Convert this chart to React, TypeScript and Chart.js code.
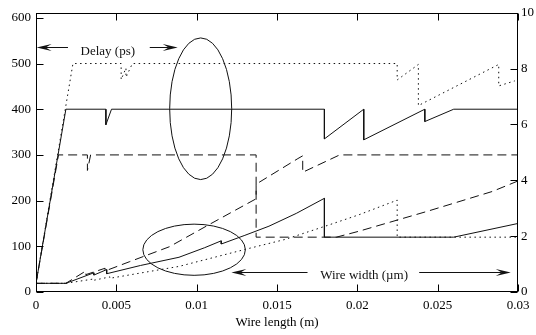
import React, { useEffect, useRef } from "react";
import { Chart, registerables } from "chart.js";

Chart.register(...registerables);

// ---- axis ticks ----
const xTicks = [0, 0.005, 0.01, 0.015, 0.02, 0.025, 0.03];
const leftTicks = [0, 100, 200, 300, 400, 500, 600];
const rightTicks = [0, 2, 4, 6, 8, 10];
const leftMax = 611;
const rightMax = 10;

// ---- series (x in m, y on left axis scale) ----
const solidUpper: [number, number][] = [
  [0, 19], [0.00186, 400], [0.00435, 400], [0.00435, 366], [0.0047, 400],
  [0.01795, 400], [0.01795, 335], [0.0204, 400], [0.0204, 333],
  [0.0242, 400], [0.0242, 373], [0.026, 400], [0.03, 400],
];
const dashedUpper: [number, number][] = [
  [0, 19], [0.0014, 300], [0.0032, 300], [0.0032, 266], [0.0034, 300],
  [0.0137, 300], [0.0137, 120], [0.0187, 120], [0.0201, 133],
  [0.0243, 176], [0.0284, 220], [0.03, 243],
];
const dottedUpper: [number, number][] = [
  [0, 19], [0.0023, 500], [0.0053, 500], [0.0053, 465], [0.0056, 490],
  [0.0056, 470], [0.006, 500], [0.02248, 500], [0.02248, 464],
  [0.0238, 498], [0.0238, 408], [0.0288, 498], [0.0288, 451], [0.0298, 462],
];
const solidLower: [number, number][] = [
  [0, 19], [0.00186, 19], [0.0036, 42], [0.0036, 37], [0.0044, 49],
  [0.0044, 40], [0.0065, 58], [0.0089, 76], [0.0105, 97], [0.01153, 112],
  [0.01153, 105], [0.013, 124], [0.0145, 144], [0.0162, 172],
  [0.01795, 205], [0.01795, 120], [0.026, 120], [0.03, 150],
];
const dashedLower: [number, number][] = [
  [0, 19], [0.00186, 19], [0.0031, 46], [0.0031, 38], [0.0043, 52],
  [0.0043, 46], [0.0058, 66], [0.0083, 99], [0.0108, 148], [0.0137, 204],
  [0.0137, 236], [0.0163, 292], [0.0166, 298], [0.0166, 262],
  [0.0189, 300], [0.03, 300],
];
const dottedLower: [number, number][] = [
  [0, 19], [0.00186, 19], [0.0035, 28], [0.0035, 25], [0.0046, 33],
  [0.0046, 30], [0.0089, 56], [0.0131, 94], [0.0155, 115], [0.018, 144],
  [0.0201, 169], [0.02248, 201], [0.02248, 120], [0.03, 120],
];

// ---- annotations (data coordinates) ----
const delayEllipse = { x: 0.01025, y: 401, rx: 0.00193, ry: 155 };
const widthEllipse = { x: 0.00984, y: 92.5, rx: 0.00319, ry: 56 };
const delayLabel = { text: "Delay (ps)", x: 0.00447, y: 527 };
const delayArrows = [
  { x1: 0.00199, x2: 0.00004, y: 536 },
  { x1: 0.00708, x2: 0.00882, y: 536 },
];
const widthLabel = { text: "Wire width (\u00b5m)", x: 0.02042, y: 36 };
const widthArrows = [
  { x1: 0.0169, x2: 0.01216, y: 43 },
  { x1: 0.02385, x2: 0.02955, y: 43 },
];

const FONT = '"Liberation Serif"';
const FSIZE = 13;
const INK = "#111";

function toPts(a: [number, number][]) {
  return a.map(([x, y]) => ({ x, y }));
}

const annotPlugin = {
  id: "annot",
  afterDraw(chart: any) {
    const { ctx, chartArea } = chart;
    const { left, right, top, bottom } = chartArea;
    const sx = chart.scales.x;
    const sy = chart.scales.y;
    const sy2 = chart.scales.y2;
    ctx.save();
    ctx.strokeStyle = "#000";
    ctx.lineWidth = 1;
    ctx.setLineDash([]);
    const L = Math.round(left) + 0.5;
    const R = Math.round(right) - 0.5;
    const T = Math.round(top) + 0.5;
    const B = Math.round(bottom) - 0.5;
    ctx.strokeRect(L, T, R - L, B - T);
    const tl = 7;
    ctx.beginPath();
    for (const t of xTicks) {
      const px = Math.round(sx.getPixelForValue(t)) + 0.5;
      ctx.moveTo(px, B);
      ctx.lineTo(px, B - tl);
      ctx.moveTo(px, T);
      ctx.lineTo(px, T + tl);
    }
    for (const t of leftTicks) {
      const py = Math.round(sy.getPixelForValue(t)) + 0.5;
      ctx.moveTo(L, py);
      ctx.lineTo(L + tl, py);
    }
    for (const t of rightTicks) {
      const py = Math.round(sy2.getPixelForValue(t)) + 0.5;
      ctx.moveTo(R, py);
      ctx.lineTo(R - tl, py);
    }
    ctx.stroke();

    // ellipses
    ctx.strokeStyle = INK;
    for (const e of [delayEllipse, widthEllipse]) {
      const cx = sx.getPixelForValue(e.x);
      const cy = sy.getPixelForValue(e.y);
      const rx = Math.abs(sx.getPixelForValue(e.x + e.rx) - cx);
      const ry = Math.abs(sy.getPixelForValue(e.y + e.ry) - cy);
      ctx.beginPath();
      ctx.ellipse(cx, cy, rx, ry, 0, 0, Math.PI * 2);
      ctx.stroke();
    }

    // arrows
    ctx.fillStyle = INK;
    for (const a of [...delayArrows, ...widthArrows]) {
      const x1 = sx.getPixelForValue(a.x1);
      const x2 = sx.getPixelForValue(a.x2);
      const y = Math.round(sy.getPixelForValue(a.y)) + 0.5;
      const dir = x2 > x1 ? 1 : -1;
      const hl = 15;
      ctx.beginPath();
      ctx.moveTo(x1, y);
      ctx.lineTo(x2 - dir * hl * 0.6, y);
      ctx.stroke();
      ctx.beginPath();
      ctx.moveTo(x2, y);
      ctx.lineTo(x2 - dir * hl, y - 3.5);
      ctx.lineTo(x2 - dir * hl * 0.6, y);
      ctx.lineTo(x2 - dir * hl, y + 3.5);
      ctx.closePath();
      ctx.fill();
    }

    // labels
    ctx.font = `${FSIZE}px ${FONT}`;
    ctx.textAlign = "center";
    ctx.textBaseline = "middle";
    for (const l of [delayLabel, widthLabel]) {
      ctx.fillText(l.text, sx.getPixelForValue(l.x), sy.getPixelForValue(l.y));
    }
    ctx.restore();
  },
};

export default function App() {
  const ref = useRef<HTMLCanvasElement | null>(null);
  useEffect(() => {
    document.body.style.margin = "0";
    const canvas = ref.current;
    if (!canvas) return;
    const mk = (label: string, data: [number, number][], dash: number[]) => ({
      label,
      data: toPts(data),
      borderColor: INK,
      borderWidth: 1,
      borderDash: dash,
      pointRadius: 0,
      tension: 0,
      fill: false,
      yAxisID: "y",
    });
    Chart.defaults.font.family = FONT;
    const tickFont = { family: FONT, size: FSIZE };
    const chart = new Chart(canvas, {
      type: "line",
      data: {
        datasets: [
          mk("solidUpper", solidUpper, []),
          mk("dashedUpper", dashedUpper, [9, 5]),
          mk("dottedUpper", dottedUpper, [1.5, 3.5]),
          mk("solidLower", solidLower, []),
          mk("dashedLower", dashedLower, [9, 5]),
          mk("dottedLower", dottedLower, [1.5, 3.5]),
        ] as any,
      },
      options: {
        animation: false,
        responsive: false,
        maintainAspectRatio: false,
        layout: { padding: { top: 7, left: 0, right: 0, bottom: 0 } },
        plugins: { legend: { display: false }, tooltip: { enabled: false } },
        scales: {
          x: {
            type: "linear",
            min: 0,
            max: 0.03,
            afterBuildTicks: (s: any) => {
              s.ticks = xTicks.map((v) => ({ value: v }));
            },
            afterFit: (s: any) => {
              s.height = 43;
            },
            grid: { display: false, drawTicks: false },
            border: { display: false },
            ticks: {
              padding: 6,
              color: "#000",
              font: tickFont,
              maxRotation: 0,
              callback: (v: any) => String(v),
            },
            title: {
              display: true,
              text: "Wire length (m)",
              color: "#000",
              font: tickFont,
              padding: { top: 0, bottom: 5 },
            },
          },
          y: {
            type: "linear",
            position: "left",
            min: 0,
            max: leftMax,
            afterBuildTicks: (s: any) => {
              s.ticks = leftTicks.map((v) => ({ value: v }));
            },
            afterFit: (s: any) => {
              s.width = 36;
            },
            grid: { display: false, drawTicks: false },
            border: { display: false },
            ticks: {
              padding: 5,
              color: "#000",
              font: tickFont,
              callback: (v: any) => String(v),
            },
          },
          y2: {
            type: "linear",
            position: "right",
            min: 0,
            max: rightMax,
            afterBuildTicks: (s: any) => {
              s.ticks = rightTicks.map((v) => ({ value: v }));
            },
            afterFit: (s: any) => {
              s.width = 18;
            },
            grid: { display: false, drawTicks: false },
            border: { display: false },
            ticks: {
              padding: 3,
              color: "#000",
              font: tickFont,
              callback: (v: any) => String(v),
            },
          },
        },
      } as any,
      plugins: [annotPlugin],
    });
    return () => chart.destroy();
  }, []);
  return (
    <div style={{ position: "fixed", left: 0, top: 0, width: 536, height: 335, background: "#fff" }}>
      <canvas ref={ref} width={536} height={335} style={{ display: "block" }} />
    </div>
  );
}
